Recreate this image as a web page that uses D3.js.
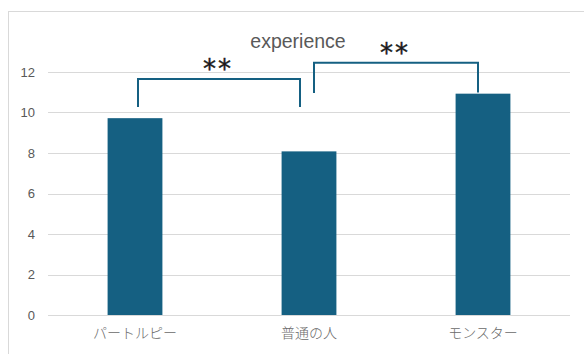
<!DOCTYPE html>
<html>
<head>
<meta charset="utf-8">
<script src="https://cdn.jsdelivr.net/npm/d3@7"></script>
<style>
  body { margin: 0; background: #fff; }
</style>
</head>
<body>
<div class="chart"></div>
<script>
const categories = ["パートルピー", "普通の人", "モンスター"]
const values = [9.72, 8.08, 10.93]
const yTicks = [0, 2, 4, 6, 8, 10, 12]
const title = "experience"

// significance brackets: [from index, to index], leg bottoms and bar height in data units
const sigPairs = [[0, 1], [1, 2]]
const sigLevels = [11.65, 12.46]
const sigLegLeft = [10.27, 10.96]
const sigLegRight = [10.27, 10.99]
const sigLabels = ["**", "**"]

const W = 584, H = 354
const margin = {left: 48, right: 14, top: 72, bottom: 39}
const width = W - margin.left - margin.right
const height = H - margin.top - margin.bottom
const color = "#156082"

const svg = d3.select(".chart")
	.append("svg")
	.attr("width", W)
	.attr("height", H)

// chart border
svg.append("rect")
	.attr("x", 8.5)
	.attr("y", 11.5)
	.attr("width", 600)
	.attr("height", 400)
	.attr("fill", "none")
	.attr("stroke", "#d9d9d9")

const g = svg.append("g")
	.attr("transform", "translate(" + margin.left + "," + margin.top + ")")

const xScale = d3.scaleBand()
	.domain(categories)
	.range([0, width])
	.paddingInner(0.685)
	.paddingOuter(0.3425)

const yScale = d3.scaleLinear()
	.domain([0, 12])
	.range([height, 0])

// gridlines
g.append("g")
	.selectAll("line")
	.data(yTicks)
	.enter()
	.append("line")
	.attr("x1", 0)
	.attr("x2", width)
	.attr("y1", d => Math.round(yScale(d)) + 0.5)
	.attr("y2", d => Math.round(yScale(d)) + 0.5)
	.attr("stroke", "#d9d9d9")
	.attr("stroke-width", 1)

// y axis labels
const yAxis = g.append("g")
	.call(d3.axisLeft(yScale).tickValues(yTicks).tickSize(0).tickPadding(13))
yAxis.select(".domain").remove()
yAxis.selectAll("text")
	.attr("fill", "#595959")
	.attr("font-family", "'Liberation Sans', Arial, sans-serif")
	.attr("font-size", "13px")

// x axis labels
const xAxis = g.append("g")
	.attr("transform", "translate(0," + height + ")")
	.call(d3.axisBottom(xScale).tickSize(0).tickPadding(13))
xAxis.select(".domain").remove()
xAxis.selectAll("text")
	.attr("fill", "#6a6a6a")
	.attr("font-family", "'Noto Sans CJK JP', sans-serif")
	.attr("font-weight", 300)
	.attr("font-size", "14px")

// bars
g.selectAll("rect.bar")
	.data(values)
	.enter()
	.append("rect")
	.attr("class", "bar")
	.attr("x", (d, i) => xScale(categories[i]))
	.attr("y", d => yScale(d))
	.attr("width", xScale.bandwidth())
	.attr("height", d => height - yScale(d))
	.attr("fill", color)

// significance brackets
const cx = i => xScale(categories[i]) + xScale.bandwidth() / 2
const legOffsets = [[3, -9], [5, -5]]
sigPairs.forEach((p, k) => {
	const x1 = cx(p[0]) + legOffsets[k][0]
	const x2 = cx(p[1]) + legOffsets[k][1]
	const yTop = yScale(sigLevels[k])
	g.append("path")
		.attr("d", "M" + x1 + "," + yScale(sigLegLeft[k]) + "V" + yTop + "H" + x2 + "V" + yScale(sigLegRight[k]))
		.attr("fill", "none")
		.attr("stroke", color)
		.attr("stroke-width", 2)
	g.append("text")
		.attr("x", (x1 + x2) / 2 - 1)
		.attr("y", yTop - 1)
		.attr("text-anchor", "middle")
		.attr("font-family", "'DejaVu Sans', sans-serif")
		.attr("font-size", "26px")
		.attr("letter-spacing", "2px")
		.attr("fill", "#1a1a1a")
		.attr("stroke", "#1a1a1a")
		.attr("stroke-width", 0.4)
		.text(sigLabels[k])
})

// title
svg.append("text")
	.attr("x", 298)
	.attr("y", 48)
	.attr("text-anchor", "middle")
	.attr("font-family", "'Liberation Sans', Arial, sans-serif")
	.attr("font-size", "19.5px")
	.attr("fill", "#595959")
	.text(title)
</script>
</body>
</html>
